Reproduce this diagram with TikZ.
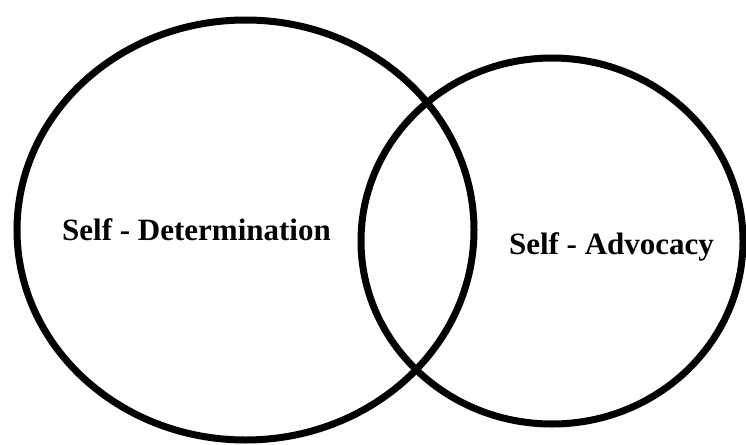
\documentclass[tikz,border=0pt]{standalone}
\usepackage{fontspec}
\setmainfont{Liberation Serif}
\begin{document}
\begin{tikzpicture}[x=1pt,y=-1pt,
  ring/.style={draw=black,line width=7pt},
  label/.style={font=\fontsize{31}{36}\selectfont\bfseries,anchor=base,inner sep=0pt}]
  \useasboundingbox (0,0) rectangle (746,444);
  % the two overlapping sets
  \draw[ring] (245.5,230) ellipse [x radius=228.5, y radius=210];
  \draw[ring] (552,241) ellipse [x radius=191, y radius=183];
  % set names
  \node[label] (sd) at (196.5,240) {Self - Determination};
  \node[label] (sa) at (611.5,254) {Self - Advocacy};
\end{tikzpicture}
\end{document}
